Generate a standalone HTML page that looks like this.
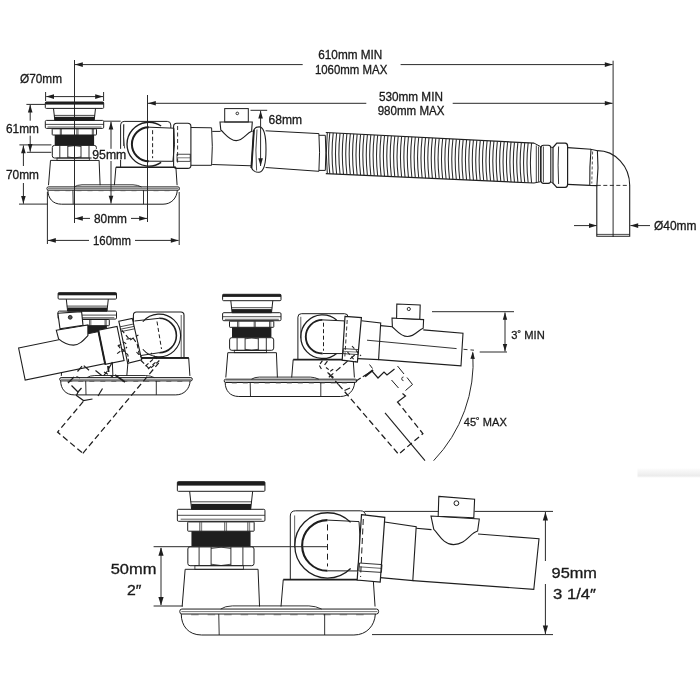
<!DOCTYPE html>
<html><head><meta charset="utf-8"><style>
html,body{margin:0;padding:0;background:#fff;}
svg{display:block;will-change:transform;}
text{font-family:"Liberation Sans",sans-serif;}
</style></head><body>
<svg width="700" height="700" viewBox="0 0 700 700">
<rect width="700" height="700" fill="#fff"/>
<defs><linearGradient id="shadowbar" x1="0" y1="0" x2="0" y2="1"><stop offset="0" stop-color="#fcfcfc"/><stop offset="0.8" stop-color="#ececec"/><stop offset="1" stop-color="#f8f8f8"/></linearGradient></defs>
<rect x="637.5" y="468.5" width="62.5" height="9" fill="url(#shadowbar)"/>
<g fill="none" stroke-linecap="butt">
<line x1="74.50" y1="60.00" x2="74.50" y2="223.00" stroke="#2a2a2a" stroke-width="1.0"/>
<line x1="75.00" y1="64.60" x2="302.70" y2="64.60" stroke="#2a2a2a" stroke-width="1.0"/>
<line x1="400.60" y1="64.60" x2="612.60" y2="64.60" stroke="#2a2a2a" stroke-width="1.0"/>
<polygon points="75.00,64.60 82.80,62.30 82.80,66.90" fill="#1e1e1e"/>
<polygon points="612.60,64.60 604.80,66.90 604.80,62.30" fill="#1e1e1e"/>
<text x="350.3" y="59.4" font-size="12.0" text-anchor="middle" fill="#1a1a1a" stroke="#1a1a1a" stroke-width="0.3" textLength="64" lengthAdjust="spacingAndGlyphs">610mm MIN</text>
<text x="351.1" y="74.4" font-size="12.0" text-anchor="middle" fill="#1a1a1a" stroke="#1a1a1a" stroke-width="0.3" textLength="72.4" lengthAdjust="spacingAndGlyphs">1060mm MAX</text>
<line x1="613.10" y1="60.70" x2="613.10" y2="237.00" stroke="#2a2a2a" stroke-width="1.0"/>
<line x1="147.50" y1="95.00" x2="147.50" y2="222.00" stroke="#2a2a2a" stroke-width="1.0"/>
<line x1="148.00" y1="103.30" x2="366.30" y2="103.30" stroke="#2a2a2a" stroke-width="1.0"/>
<line x1="452.70" y1="103.30" x2="612.60" y2="103.30" stroke="#2a2a2a" stroke-width="1.0"/>
<polygon points="148.00,103.30 155.80,101.00 155.80,105.60" fill="#1e1e1e"/>
<polygon points="612.60,103.30 604.80,105.60 604.80,101.00" fill="#1e1e1e"/>
<text x="410.9" y="100.6" font-size="12.0" text-anchor="middle" fill="#1a1a1a" stroke="#1a1a1a" stroke-width="0.3" textLength="64" lengthAdjust="spacingAndGlyphs">530mm MIN</text>
<text x="411.1" y="115.0" font-size="12.0" text-anchor="middle" fill="#1a1a1a" stroke="#1a1a1a" stroke-width="0.3" textLength="66.8" lengthAdjust="spacingAndGlyphs">980mm MAX</text>
<rect x="45.30" y="102.00" width="58.40" height="2.60" fill="#1e1e1e"/>
<rect x="45.30" y="102.00" width="58.40" height="6.40" rx="1" fill="none" stroke="#1e1e1e" stroke-width="1.0"/>
<path d="M53.5,108.4 L54.8,120.4 L94.2,120.4 L95.5,108.4" fill="none" stroke="#1e1e1e" stroke-width="1.0"/>
<line x1="54.10" y1="115.40" x2="94.90" y2="115.40" stroke="#1e1e1e" stroke-width="0.8"/>
<rect x="54.60" y="116.80" width="39.80" height="3.60" fill="#1e1e1e"/>
<rect x="45.30" y="120.40" width="58.40" height="8.00" rx="1.2" fill="none" stroke="#1e1e1e" stroke-width="1.0"/>
<line x1="45.30" y1="124.40" x2="103.70" y2="124.40" stroke="#1e1e1e" stroke-width="0.8"/>
<line x1="47.50" y1="127.00" x2="101.50" y2="127.00" stroke="#1e1e1e" stroke-width="0.7"/>
<rect x="52.20" y="128.80" width="44.30" height="6.20" rx="0.6" fill="none" stroke="#1e1e1e" stroke-width="1.0"/>
<line x1="60.30" y1="129.00" x2="60.30" y2="135.00" stroke="#1e1e1e" stroke-width="0.8"/>
<line x1="61.50" y1="129.00" x2="61.50" y2="135.00" stroke="#1e1e1e" stroke-width="0.6"/>
<line x1="76.90" y1="129.00" x2="76.90" y2="135.00" stroke="#1e1e1e" stroke-width="0.8"/>
<line x1="78.10" y1="129.00" x2="78.10" y2="135.00" stroke="#1e1e1e" stroke-width="0.6"/>
<line x1="92.30" y1="129.00" x2="92.30" y2="135.00" stroke="#1e1e1e" stroke-width="0.8"/>
<line x1="93.50" y1="129.00" x2="93.50" y2="135.00" stroke="#1e1e1e" stroke-width="0.6"/>
<rect x="54.70" y="135.00" width="39.40" height="10.20" fill="#1e1e1e"/>
<rect x="52.30" y="145.40" width="44.10" height="12.60" rx="2.2" fill="none" stroke="#1e1e1e" stroke-width="1.0"/>
<line x1="59.80" y1="145.60" x2="59.80" y2="157.80" stroke="#1e1e1e" stroke-width="0.9"/>
<line x1="67.80" y1="145.60" x2="67.80" y2="157.80" stroke="#1e1e1e" stroke-width="0.9"/>
<line x1="81.00" y1="145.60" x2="81.00" y2="157.80" stroke="#1e1e1e" stroke-width="0.9"/>
<line x1="89.00" y1="145.60" x2="89.00" y2="157.80" stroke="#1e1e1e" stroke-width="0.9"/>
<path d="M67.8,146.5 Q74.5,144.8 81.0,146.5 M67.8,157.0 Q74.5,158.8 81.0,157.0" fill="none" stroke="#1e1e1e" stroke-width="0.8"/>
<rect x="57.00" y="158.00" width="32.30" height="2.40" rx="0" fill="none" stroke="#1e1e1e" stroke-width="0.8"/>
<path d="M50.5,160.4 L48.5,185.2 M99.1,160.4 L100.1,185.2 M50.5,160.4 L99.1,160.4" fill="none" stroke="#1e1e1e" stroke-width="1.0"/>
<path d="M115.9,167.3 L114.4,185.2 M175.9,167.3 L177.1,185.2" fill="none" stroke="#1e1e1e" stroke-width="1.0"/>
<line x1="115.90" y1="167.30" x2="175.90" y2="167.30" stroke="#1e1e1e" stroke-width="1.6"/>
<path d="M74.2,186.9 Q77.0,184.9 82.0,184.8 L133.0,184.8 Q137.5,184.9 141.5,186.9" fill="none" stroke="#1e1e1e" stroke-width="0.9"/>
<path d="M48.3,186.9 L178.1,186.9 Q179.5,186.9 179.5,188.5 Q179.5,190.2 178.1,190.2 L48.3,190.2 Q46.9,190.2 46.9,188.5 Q46.9,186.9 48.3,186.9 Z" fill="none" stroke="#1e1e1e" stroke-width="1.0"/>
<line x1="48.00" y1="188.60" x2="178.60" y2="188.60" stroke="#1e1e1e" stroke-width="0.6"/>
<line x1="54.50" y1="190.70" x2="175.10" y2="190.70" stroke="#555" stroke-width="0.8" stroke-dasharray="5.0,6.0"/>
<path d="M47.9,190.2 C47.9,198.0 52.5,204.2 61.5,204.2 L163.0,204.2 C171.5,204.2 176.9,198.0 177.3,190.2" fill="none" stroke="#1e1e1e" stroke-width="1.0"/>
<line x1="72.90" y1="190.20" x2="73.20" y2="204.20" stroke="#1e1e1e" stroke-width="0.9"/>
<line x1="143.50" y1="190.20" x2="143.50" y2="204.20" stroke="#1e1e1e" stroke-width="0.9"/>
<path d="M120.6,167.3 L120.6,124.9 Q120.6,121.4 124.1,121.4 L167.3,121.4 Q170.8,121.4 170.8,125.0 L170.8,128.0" fill="none" stroke="#1e1e1e" stroke-width="1.0"/>
<line x1="123.50" y1="124.50" x2="123.50" y2="146.00" stroke="#1e1e1e" stroke-width="0.7"/>
<path d="M161.14632458600937,126.04407716104458 A21.9,21.9 0 1 0 161.14632458600937,162.35592283895542" fill="none" stroke="#1e1e1e" stroke-width="1.35"/>
<path d="M148.9,127.2 A17.0,17.0 0 0 0 148.9,161.2" fill="none" stroke="#1e1e1e" stroke-width="2.0"/>
<path d="M148.9,127.2 L173.9,128.2 Q175.5,145.0 172.9,161.3 L148.9,161.2" fill="none" stroke="#1e1e1e" stroke-width="1.0"/>
<line x1="152.60" y1="130.20" x2="152.60" y2="158.20" stroke="#1e1e1e" stroke-width="1.0" stroke-dasharray="4.0,2.5"/>
<path d="M123.9,124.2 Q123.0,137 124.6,148.5" fill="none" stroke="#1e1e1e" stroke-width="0.8"/>
<rect x="173.60" y="123.30" width="17.30" height="45.10" rx="3.2" fill="none" stroke="#1e1e1e" stroke-width="1.1"/>
<line x1="177.60" y1="126.00" x2="177.60" y2="165.00" stroke="#1e1e1e" stroke-width="0.9" stroke-dasharray="4,2.5"/>
<rect x="177.00" y="154.20" width="13.20" height="7.10" rx="0" fill="none" stroke="#1e1e1e" stroke-width="0.8"/>
<line x1="177.20" y1="157.80" x2="190.00" y2="157.80" stroke="#1e1e1e" stroke-width="0.6"/>
<path d="M190.9,127.5 L211.6,127.8 Q213,146 211.6,165.3 L190.9,165.3" fill="none" stroke="#1e1e1e" stroke-width="1.0"/>
<path d="M212.2,131.4 L220.6,131.4 M251.8,131.4 L252.6,131.4 M212.2,164.5 L251.5,165.8" fill="none" stroke="#1e1e1e" stroke-width="1.0"/>
<path d="M220.0,122.0 L252.3,122.0 L251.6,131.2 C246,133.5 243,140.6 236.2,140.6 C229,140.6 225,133.5 220.8,130.0 Z" fill="none" stroke="#1e1e1e" stroke-width="1.1"/>
<rect x="224.70" y="108.60" width="23.60" height="13.40" rx="0" fill="none" stroke="#1e1e1e" stroke-width="1.0"/>
<circle cx="237.3" cy="113.4" r="1.3" fill="none" stroke="#1e1e1e" stroke-width="0.9"/>
<path d="M253.8,130.5 C254.5,127.6 256.5,126.8 259.5,126.9 C264.6,127.4 266.0,138 266.0,149.5 C266.0,161 264.6,171.6 259.2,172.2 C255.6,172.6 252.4,170.5 251.4,167.5 Z" fill="#fff" stroke="#1e1e1e" stroke-width="1.1"/>
<line x1="253.90" y1="129.80" x2="251.40" y2="168.00" stroke="#1e1e1e" stroke-width="1.9"/>
<path d="M257.0,129.5 Q255.0,150 256.6,170.5" fill="none" stroke="#1e1e1e" stroke-width="0.8"/>
<line x1="250.50" y1="110.30" x2="267.20" y2="110.30" stroke="#2a2a2a" stroke-width="1.0"/>
<line x1="260.60" y1="110.80" x2="260.60" y2="166.00" stroke="#2a2a2a" stroke-width="1.0"/>
<polygon points="260.60,110.80 262.90,118.60 258.30,118.60" fill="#1e1e1e"/>
<polygon points="260.60,166.00 258.30,158.20 262.90,158.20" fill="#1e1e1e"/>
<text x="268.5" y="124.4" font-size="12.0" text-anchor="start" fill="#1a1a1a" stroke="#1a1a1a" stroke-width="0.3" textLength="33.5" lengthAdjust="spacingAndGlyphs">68mm</text>
<path d="M265.6,130.8 L318.9,133.6 Q320.2,152 318.9,171.3 L265.6,167.5" fill="none" stroke="#1e1e1e" stroke-width="1.0"/>
<path d="M318.9,135.3 L325.3,135.3 Q326.5,153 325.3,170.4 L318.9,170.4" fill="none" stroke="#1e1e1e" stroke-width="1.0"/>
<path d="M325.8,132.5 L534.0,143.1 M325.8,173.6 L534.0,183.0" fill="none" stroke="#1e1e1e" stroke-width="1.2"/>
<path d="M327.3,132.5 Q325.3,153.05 327.3,173.6" fill="none" stroke="#1e1e1e" stroke-width="1.0"/>
<path d="M329.80,132.70 C328.40,145.03 328.40,161.46 329.80,173.78" fill="none" stroke="#2a2a2a" stroke-width="1.05"/>
<path d="M333.22,132.88 C331.82,145.19 331.82,161.62 333.22,173.94" fill="none" stroke="#2a2a2a" stroke-width="1.05"/>
<path d="M336.64,133.05 C335.24,145.36 335.24,161.78 336.64,174.09" fill="none" stroke="#2a2a2a" stroke-width="1.05"/>
<path d="M340.06,133.23 C338.66,145.53 338.66,161.94 340.06,174.24" fill="none" stroke="#2a2a2a" stroke-width="1.05"/>
<path d="M343.48,133.40 C342.08,145.70 342.08,162.10 343.48,174.40" fill="none" stroke="#2a2a2a" stroke-width="1.05"/>
<path d="M346.90,133.57 C345.50,145.87 345.50,162.26 346.90,174.55" fill="none" stroke="#2a2a2a" stroke-width="1.05"/>
<path d="M350.32,133.75 C348.92,146.04 348.92,162.42 350.32,174.71" fill="none" stroke="#2a2a2a" stroke-width="1.05"/>
<path d="M353.74,133.92 C352.34,146.20 352.34,162.58 353.74,174.86" fill="none" stroke="#2a2a2a" stroke-width="1.05"/>
<path d="M357.16,134.10 C355.76,146.37 355.76,162.74 357.16,175.02" fill="none" stroke="#2a2a2a" stroke-width="1.05"/>
<path d="M360.58,134.27 C359.18,146.54 359.18,162.90 360.58,175.17" fill="none" stroke="#2a2a2a" stroke-width="1.05"/>
<path d="M364.00,134.44 C362.60,146.71 362.60,163.06 364.00,175.32" fill="none" stroke="#2a2a2a" stroke-width="1.05"/>
<path d="M367.42,134.62 C366.02,146.88 366.02,163.22 367.42,175.48" fill="none" stroke="#2a2a2a" stroke-width="1.05"/>
<path d="M370.84,134.79 C369.44,147.05 369.44,163.38 370.84,175.63" fill="none" stroke="#2a2a2a" stroke-width="1.05"/>
<path d="M374.26,134.97 C372.86,147.21 372.86,163.54 374.26,175.79" fill="none" stroke="#2a2a2a" stroke-width="1.05"/>
<path d="M377.68,135.14 C376.28,147.38 376.28,163.70 377.68,175.94" fill="none" stroke="#2a2a2a" stroke-width="1.05"/>
<path d="M381.10,135.32 C379.70,147.55 379.70,163.86 381.10,176.10" fill="none" stroke="#2a2a2a" stroke-width="1.05"/>
<path d="M384.52,135.49 C383.12,147.72 383.12,164.02 384.52,176.25" fill="none" stroke="#2a2a2a" stroke-width="1.05"/>
<path d="M387.94,135.66 C386.54,147.89 386.54,164.18 387.94,176.41" fill="none" stroke="#2a2a2a" stroke-width="1.05"/>
<path d="M391.36,135.84 C389.96,148.05 389.96,164.34 391.36,176.56" fill="none" stroke="#2a2a2a" stroke-width="1.05"/>
<path d="M394.78,136.01 C393.38,148.22 393.38,164.50 394.78,176.71" fill="none" stroke="#2a2a2a" stroke-width="1.05"/>
<path d="M398.20,136.19 C396.80,148.39 396.80,164.66 398.20,176.87" fill="none" stroke="#2a2a2a" stroke-width="1.05"/>
<path d="M401.62,136.36 C400.22,148.56 400.22,164.82 401.62,177.02" fill="none" stroke="#2a2a2a" stroke-width="1.05"/>
<path d="M405.04,136.53 C403.64,148.73 403.64,164.98 405.04,177.18" fill="none" stroke="#2a2a2a" stroke-width="1.05"/>
<path d="M408.46,136.71 C407.06,148.90 407.06,165.14 408.46,177.33" fill="none" stroke="#2a2a2a" stroke-width="1.05"/>
<path d="M411.88,136.88 C410.48,149.06 410.48,165.31 411.88,177.49" fill="none" stroke="#2a2a2a" stroke-width="1.05"/>
<path d="M415.30,137.06 C413.90,149.23 413.90,165.47 415.30,177.64" fill="none" stroke="#2a2a2a" stroke-width="1.05"/>
<path d="M418.72,137.23 C417.32,149.40 417.32,165.63 418.72,177.80" fill="none" stroke="#2a2a2a" stroke-width="1.05"/>
<path d="M422.14,137.40 C420.74,149.57 420.74,165.79 422.14,177.95" fill="none" stroke="#2a2a2a" stroke-width="1.05"/>
<path d="M425.56,137.58 C424.16,149.74 424.16,165.95 425.56,178.10" fill="none" stroke="#2a2a2a" stroke-width="1.05"/>
<path d="M428.98,137.75 C427.58,149.90 427.58,166.11 428.98,178.26" fill="none" stroke="#2a2a2a" stroke-width="1.05"/>
<path d="M432.40,137.93 C431.00,150.07 431.00,166.27 432.40,178.41" fill="none" stroke="#2a2a2a" stroke-width="1.05"/>
<path d="M435.82,138.10 C434.42,150.24 434.42,166.43 435.82,178.57" fill="none" stroke="#2a2a2a" stroke-width="1.05"/>
<path d="M439.24,138.28 C437.84,150.41 437.84,166.59 439.24,178.72" fill="none" stroke="#2a2a2a" stroke-width="1.05"/>
<path d="M442.66,138.45 C441.26,150.58 441.26,166.75 442.66,178.88" fill="none" stroke="#2a2a2a" stroke-width="1.05"/>
<path d="M446.08,138.62 C444.68,150.75 444.68,166.91 446.08,179.03" fill="none" stroke="#2a2a2a" stroke-width="1.05"/>
<path d="M449.50,138.80 C448.10,150.91 448.10,167.07 449.50,179.18" fill="none" stroke="#2a2a2a" stroke-width="1.05"/>
<path d="M452.92,138.97 C451.52,151.08 451.52,167.23 452.92,179.34" fill="none" stroke="#2a2a2a" stroke-width="1.05"/>
<path d="M456.34,139.15 C454.94,151.25 454.94,167.39 456.34,179.49" fill="none" stroke="#2a2a2a" stroke-width="1.05"/>
<path d="M459.76,139.32 C458.36,151.42 458.36,167.55 459.76,179.65" fill="none" stroke="#2a2a2a" stroke-width="1.05"/>
<path d="M463.18,139.49 C461.78,151.59 461.78,167.71 463.18,179.80" fill="none" stroke="#2a2a2a" stroke-width="1.05"/>
<path d="M466.60,139.67 C465.20,151.76 465.20,167.87 466.60,179.96" fill="none" stroke="#2a2a2a" stroke-width="1.05"/>
<path d="M470.02,139.84 C468.62,151.92 468.62,168.03 470.02,180.11" fill="none" stroke="#2a2a2a" stroke-width="1.05"/>
<path d="M473.44,140.02 C472.04,152.09 472.04,168.19 473.44,180.27" fill="none" stroke="#2a2a2a" stroke-width="1.05"/>
<path d="M476.86,140.19 C475.46,152.26 475.46,168.35 476.86,180.42" fill="none" stroke="#2a2a2a" stroke-width="1.05"/>
<path d="M480.28,140.36 C478.88,152.43 478.88,168.51 480.28,180.57" fill="none" stroke="#2a2a2a" stroke-width="1.05"/>
<path d="M483.70,140.54 C482.30,152.60 482.30,168.67 483.70,180.73" fill="none" stroke="#2a2a2a" stroke-width="1.05"/>
<path d="M487.12,140.71 C485.72,152.76 485.72,168.83 487.12,180.88" fill="none" stroke="#2a2a2a" stroke-width="1.05"/>
<path d="M490.54,140.89 C489.14,152.93 489.14,168.99 490.54,181.04" fill="none" stroke="#2a2a2a" stroke-width="1.05"/>
<path d="M493.96,141.06 C492.56,153.10 492.56,169.15 493.96,181.19" fill="none" stroke="#2a2a2a" stroke-width="1.05"/>
<path d="M497.38,141.24 C495.98,153.27 495.98,169.31 497.38,181.35" fill="none" stroke="#2a2a2a" stroke-width="1.05"/>
<path d="M500.80,141.41 C499.40,153.44 499.40,169.47 500.80,181.50" fill="none" stroke="#2a2a2a" stroke-width="1.05"/>
<path d="M504.22,141.58 C502.82,153.61 502.82,169.63 504.22,181.66" fill="none" stroke="#2a2a2a" stroke-width="1.05"/>
<path d="M507.64,141.76 C506.24,153.77 506.24,169.79 507.64,181.81" fill="none" stroke="#2a2a2a" stroke-width="1.05"/>
<path d="M511.06,141.93 C509.66,153.94 509.66,169.95 511.06,181.96" fill="none" stroke="#2a2a2a" stroke-width="1.05"/>
<path d="M514.48,142.11 C513.08,154.11 513.08,170.11 514.48,182.12" fill="none" stroke="#2a2a2a" stroke-width="1.05"/>
<path d="M517.90,142.28 C516.50,154.28 516.50,170.28 517.90,182.27" fill="none" stroke="#2a2a2a" stroke-width="1.05"/>
<path d="M521.32,142.45 C519.92,154.45 519.92,170.44 521.32,182.43" fill="none" stroke="#2a2a2a" stroke-width="1.05"/>
<path d="M524.74,142.63 C523.34,154.61 523.34,170.60 524.74,182.58" fill="none" stroke="#2a2a2a" stroke-width="1.05"/>
<path d="M528.16,142.80 C526.76,154.78 526.76,170.76 528.16,182.74" fill="none" stroke="#2a2a2a" stroke-width="1.05"/>
<path d="M531.58,142.98 C530.18,154.95 530.18,170.92 531.58,182.89" fill="none" stroke="#2a2a2a" stroke-width="1.05"/>
<path d="M534,143.1 L540.6,146.6 L540.6,181.7 L534,183.0" fill="none" stroke="#1e1e1e" stroke-width="1.0"/>
<line x1="536.30" y1="145.43" x2="536.30" y2="182.25" stroke="#2a2a2a" stroke-width="0.9"/>
<line x1="538.60" y1="146.47" x2="538.60" y2="181.91" stroke="#2a2a2a" stroke-width="0.9"/>
<rect x="541.00" y="145.30" width="9.80" height="38.10" rx="2.6" fill="none" stroke="#1e1e1e" stroke-width="1.1"/>
<line x1="543.40" y1="146.50" x2="543.40" y2="182.20" stroke="#1e1e1e" stroke-width="0.8"/>
<path d="M553.0,147.5 L556.8,143.1 L565.2,143.1 Q567.6,143.1 567.6,146.2 L567.6,184.3 Q567.6,187.3 565.2,187.3 L556.8,187.3 L553.0,183.2 Z" fill="none" stroke="#1e1e1e" stroke-width="1.2"/>
<path d="M558.6,146.5 Q557.6,165 558.6,184" fill="none" stroke="#1e1e1e" stroke-width="0.9"/>
<line x1="550.80" y1="147.20" x2="553.00" y2="147.50" stroke="#1e1e1e" stroke-width="0.9"/>
<line x1="550.80" y1="181.80" x2="553.00" y2="183.20" stroke="#1e1e1e" stroke-width="0.9"/>
<path d="M567.6,147.6 L591.0,149.3 M567.2,184.4 L589.8,185.4" fill="none" stroke="#1e1e1e" stroke-width="1.1"/>
<path d="M591.0,149.3 Q589.4,167.5 589.8,185.4 L596.9,185.6 Q598.8,168 597.4,150.6 Z" fill="none" stroke="#1e1e1e" stroke-width="1.1"/>
<line x1="592.60" y1="151.50" x2="591.80" y2="183.50" stroke="#444" stroke-width="0.9" stroke-dasharray="3,2"/>
<path d="M597.4,150.6 A32.3,34.7 0 0 1 629.7,185.3 L629.7,236.3 L596.8,236.3 L596.8,185.6" fill="none" stroke="#1e1e1e" stroke-width="1.1"/>
<line x1="596.80" y1="234.40" x2="629.70" y2="234.40" stroke="#1e1e1e" stroke-width="0.8"/>
<line x1="596.80" y1="185.40" x2="629.70" y2="185.40" stroke="#1e1e1e" stroke-width="0.9" stroke-dasharray="4,2.5"/>
<line x1="574.00" y1="225.60" x2="596.80" y2="225.60" stroke="#2a2a2a" stroke-width="1.0"/>
<polygon points="596.80,225.60 589.00,227.90 589.00,223.30" fill="#1e1e1e"/>
<line x1="650.00" y1="225.60" x2="630.40" y2="225.60" stroke="#2a2a2a" stroke-width="1.0"/>
<polygon points="630.40,225.60 638.20,223.30 638.20,227.90" fill="#1e1e1e"/>
<text x="654" y="230.3" font-size="12.0" text-anchor="start" fill="#1a1a1a" stroke="#1a1a1a" stroke-width="0.3" textLength="42.5" lengthAdjust="spacingAndGlyphs">Ø40mm</text>
<line x1="45.60" y1="92.00" x2="45.60" y2="101.00" stroke="#2a2a2a" stroke-width="1.0"/>
<line x1="103.60" y1="92.00" x2="103.60" y2="101.00" stroke="#2a2a2a" stroke-width="1.0"/>
<line x1="46.20" y1="96.60" x2="103.00" y2="96.60" stroke="#2a2a2a" stroke-width="1.0"/>
<polygon points="46.20,96.60 54.00,94.30 54.00,98.90" fill="#1e1e1e"/>
<polygon points="103.00,96.60 95.20,98.90 95.20,94.30" fill="#1e1e1e"/>
<text x="20" y="83.2" font-size="12.0" text-anchor="start" fill="#1a1a1a" stroke="#1a1a1a" stroke-width="0.3" textLength="42" lengthAdjust="spacingAndGlyphs">Ø70mm</text>
<line x1="26.40" y1="104.40" x2="45.00" y2="104.40" stroke="#2a2a2a" stroke-width="1.0"/>
<line x1="19.40" y1="144.90" x2="51.40" y2="144.90" stroke="#2a2a2a" stroke-width="1.0"/>
<line x1="26.90" y1="152.30" x2="51.40" y2="152.30" stroke="#2a2a2a" stroke-width="1.0"/>
<line x1="30.20" y1="104.80" x2="30.20" y2="120.70" stroke="#2a2a2a" stroke-width="1.0"/>
<line x1="30.20" y1="135.70" x2="30.20" y2="151.80" stroke="#2a2a2a" stroke-width="1.0"/>
<polygon points="30.20,104.80 32.50,112.60 27.90,112.60" fill="#1e1e1e"/>
<polygon points="30.20,151.80 27.90,144.00 32.50,144.00" fill="#1e1e1e"/>
<text x="6" y="133.2" font-size="12.0" text-anchor="start" fill="#1a1a1a" stroke="#1a1a1a" stroke-width="0.3" textLength="33" lengthAdjust="spacingAndGlyphs">61mm</text>
<line x1="23.40" y1="145.40" x2="23.40" y2="166.00" stroke="#2a2a2a" stroke-width="1.0"/>
<line x1="23.40" y1="183.00" x2="23.40" y2="203.80" stroke="#2a2a2a" stroke-width="1.0"/>
<polygon points="23.40,145.40 25.70,153.20 21.10,153.20" fill="#1e1e1e"/>
<polygon points="23.40,203.80 21.10,196.00 25.70,196.00" fill="#1e1e1e"/>
<text x="6" y="179.2" font-size="12.0" text-anchor="start" fill="#1a1a1a" stroke="#1a1a1a" stroke-width="0.3" textLength="33" lengthAdjust="spacingAndGlyphs">70mm</text>
<line x1="19.00" y1="204.10" x2="48.00" y2="204.10" stroke="#2a2a2a" stroke-width="1.0"/>
<line x1="104.00" y1="121.20" x2="120.60" y2="121.20" stroke="#2a2a2a" stroke-width="1.0"/>
<line x1="111.00" y1="121.80" x2="111.00" y2="149.00" stroke="#2a2a2a" stroke-width="1.0"/>
<line x1="111.00" y1="161.00" x2="111.00" y2="203.60" stroke="#2a2a2a" stroke-width="1.0"/>
<polygon points="111.00,121.80 113.30,129.60 108.70,129.60" fill="#1e1e1e"/>
<polygon points="111.00,203.60 108.70,195.80 113.30,195.80" fill="#1e1e1e"/>
<rect x="91.60" y="148.80" width="35.40" height="10.90" fill="#fff"/>
<text x="92.3" y="159.2" font-size="12.0" text-anchor="start" fill="#1a1a1a" stroke="#1a1a1a" stroke-width="0.3" textLength="34" lengthAdjust="spacingAndGlyphs">95mm</text>
<line x1="47.40" y1="192.00" x2="47.40" y2="244.00" stroke="#2a2a2a" stroke-width="1.0"/>
<line x1="179.20" y1="192.00" x2="179.20" y2="245.00" stroke="#2a2a2a" stroke-width="1.0"/>
<line x1="75.00" y1="218.40" x2="90.00" y2="218.40" stroke="#2a2a2a" stroke-width="1.0"/>
<line x1="131.00" y1="218.40" x2="147.00" y2="218.40" stroke="#2a2a2a" stroke-width="1.0"/>
<polygon points="75.00,218.40 82.80,216.10 82.80,220.70" fill="#1e1e1e"/>
<polygon points="147.00,218.40 139.20,220.70 139.20,216.10" fill="#1e1e1e"/>
<text x="94" y="222.6" font-size="12.0" text-anchor="start" fill="#1a1a1a" stroke="#1a1a1a" stroke-width="0.3" textLength="33" lengthAdjust="spacingAndGlyphs">80mm</text>
<line x1="48.00" y1="240.40" x2="89.00" y2="240.40" stroke="#2a2a2a" stroke-width="1.0"/>
<line x1="135.00" y1="240.40" x2="178.60" y2="240.40" stroke="#2a2a2a" stroke-width="1.0"/>
<polygon points="48.00,240.40 55.80,238.10 55.80,242.70" fill="#1e1e1e"/>
<polygon points="178.60,240.40 170.80,242.70 170.80,238.10" fill="#1e1e1e"/>
<text x="93" y="244.6" font-size="12.0" text-anchor="start" fill="#1a1a1a" stroke="#1a1a1a" stroke-width="0.3" textLength="38" lengthAdjust="spacingAndGlyphs">160mm</text>
<rect x="222.60" y="294.30" width="58.40" height="2.60" fill="#1e1e1e"/>
<rect x="222.60" y="294.30" width="58.40" height="6.40" rx="1" fill="none" stroke="#1e1e1e" stroke-width="1.0"/>
<path d="M230.8,300.7 L232.10000000000002,312.7 L271.5,312.7 L272.8,300.7" fill="none" stroke="#1e1e1e" stroke-width="1.0"/>
<line x1="231.40" y1="307.70" x2="272.20" y2="307.70" stroke="#1e1e1e" stroke-width="0.8"/>
<rect x="231.90" y="309.10" width="39.80" height="3.60" fill="#1e1e1e"/>
<rect x="222.60" y="312.70" width="58.40" height="8.00" rx="1.2" fill="none" stroke="#1e1e1e" stroke-width="1.0"/>
<line x1="222.60" y1="316.70" x2="281.00" y2="316.70" stroke="#1e1e1e" stroke-width="0.8"/>
<line x1="224.80" y1="319.30" x2="278.80" y2="319.30" stroke="#1e1e1e" stroke-width="0.7"/>
<rect x="229.50" y="321.10" width="44.30" height="6.20" rx="0.6" fill="none" stroke="#1e1e1e" stroke-width="1.0"/>
<line x1="237.60" y1="321.30" x2="237.60" y2="327.30" stroke="#1e1e1e" stroke-width="0.8"/>
<line x1="238.80" y1="321.30" x2="238.80" y2="327.30" stroke="#1e1e1e" stroke-width="0.6"/>
<line x1="254.20" y1="321.30" x2="254.20" y2="327.30" stroke="#1e1e1e" stroke-width="0.8"/>
<line x1="255.40" y1="321.30" x2="255.40" y2="327.30" stroke="#1e1e1e" stroke-width="0.6"/>
<line x1="269.60" y1="321.30" x2="269.60" y2="327.30" stroke="#1e1e1e" stroke-width="0.8"/>
<line x1="270.80" y1="321.30" x2="270.80" y2="327.30" stroke="#1e1e1e" stroke-width="0.6"/>
<rect x="232.00" y="327.30" width="39.40" height="10.20" fill="#1e1e1e"/>
<rect x="229.60" y="337.70" width="44.10" height="12.60" rx="2.2" fill="none" stroke="#1e1e1e" stroke-width="1.0"/>
<line x1="237.10" y1="337.90" x2="237.10" y2="350.10" stroke="#1e1e1e" stroke-width="0.9"/>
<line x1="245.10" y1="337.90" x2="245.10" y2="350.10" stroke="#1e1e1e" stroke-width="0.9"/>
<line x1="258.30" y1="337.90" x2="258.30" y2="350.10" stroke="#1e1e1e" stroke-width="0.9"/>
<line x1="266.30" y1="337.90" x2="266.30" y2="350.10" stroke="#1e1e1e" stroke-width="0.9"/>
<path d="M245.10000000000002,338.8 Q251.8,337.1 258.3,338.8 M245.10000000000002,349.3 Q251.8,351.1 258.3,349.3" fill="none" stroke="#1e1e1e" stroke-width="0.8"/>
<rect x="234.30" y="350.30" width="32.30" height="2.40" rx="0" fill="none" stroke="#1e1e1e" stroke-width="0.8"/>
<path d="M227.8,352.7 L225.8,377.5 M276.40000000000003,352.7 L277.40000000000003,377.5 M227.8,352.7 L276.40000000000003,352.7" fill="none" stroke="#1e1e1e" stroke-width="1.0"/>
<path d="M293.2,359.6 L291.7,377.5 M353.20000000000005,359.6 L354.4,377.5" fill="none" stroke="#1e1e1e" stroke-width="1.0"/>
<line x1="293.20" y1="359.60" x2="353.20" y2="359.60" stroke="#1e1e1e" stroke-width="1.6"/>
<path d="M251.5,379.20000000000005 Q254.3,377.20000000000005 259.3,377.1 L310.3,377.1 Q314.8,377.20000000000005 318.8,379.20000000000005" fill="none" stroke="#1e1e1e" stroke-width="0.9"/>
<path d="M225.60000000000002,379.20000000000005 L355.4,379.20000000000005 Q356.8,379.20000000000005 356.8,380.8 Q356.8,382.5 355.4,382.5 L225.60000000000002,382.5 Q224.20000000000002,382.5 224.20000000000002,380.8 Q224.20000000000002,379.20000000000005 225.60000000000002,379.20000000000005 Z" fill="none" stroke="#1e1e1e" stroke-width="1.0"/>
<line x1="225.30" y1="380.90" x2="355.90" y2="380.90" stroke="#1e1e1e" stroke-width="0.6"/>
<line x1="231.80" y1="383.00" x2="352.40" y2="383.00" stroke="#555" stroke-width="0.8" stroke-dasharray="5.0,6.0"/>
<path d="M225.20000000000002,382.5 C225.20000000000002,390.3 229.8,396.5 238.8,396.5 L340.3,396.5 C348.8,396.5 354.20000000000005,390.3 354.6,382.5" fill="none" stroke="#1e1e1e" stroke-width="1.0"/>
<line x1="250.20" y1="382.50" x2="250.50" y2="396.50" stroke="#1e1e1e" stroke-width="0.9"/>
<line x1="320.80" y1="382.50" x2="320.80" y2="396.50" stroke="#1e1e1e" stroke-width="0.9"/>
<path d="M297.90000000000003,359.6 L297.90000000000003,317.2 Q297.90000000000003,313.7 301.40000000000003,313.7 L344.6,313.7 Q348.1,313.7 348.1,317.3 L348.1,320.3" fill="none" stroke="#1e1e1e" stroke-width="1.0"/>
<line x1="300.80" y1="316.80" x2="300.80" y2="338.30" stroke="#1e1e1e" stroke-width="0.7"/>
<path d="M336.6127698911666,320.0002311400063 A21.8,21.8 0 1 0 336.6127698911666,353.39976885999374" fill="none" stroke="#1e1e1e" stroke-width="1.3"/>
<path d="M322.6,319.90000000000003 A16.8,16.8 0 0 0 322.6,353.5" fill="none" stroke="#1e1e1e" stroke-width="1.9"/>
<path d="M322.6,319.90000000000003 L344.3,320.90000000000003 Q345.9,337.5 343.3,353.6 L322.6,353.5" fill="none" stroke="#1e1e1e" stroke-width="1.0"/>
<line x1="323.50" y1="322.70" x2="323.50" y2="350.70" stroke="#1e1e1e" stroke-width="1.0" stroke-dasharray="4.0,2.5"/>
<path d="M345.00,316.40 L361.40,317.60 L357.40,362.00 L342.20,360.20 Z" fill="#fff" stroke="#1e1e1e" stroke-width="1.2"/>
<line x1="347.20" y1="320.00" x2="344.80" y2="357.00" stroke="#1e1e1e" stroke-width="0.9" stroke-dasharray="4,2.5"/>
<path d="M343.40,348.60 L358.50,349.60 L358.10,354.60 L343.00,353.60 Z" fill="none" stroke="#1e1e1e" stroke-width="0.8"/>
<line x1="343.20" y1="351.30" x2="358.30" y2="352.20" stroke="#1e1e1e" stroke-width="0.6"/>
<path d="M361.4,320.7 L380.7,322.9 L378.6,359.6 L357.6,358.6" fill="none" stroke="#1e1e1e" stroke-width="1.1"/>
<path d="M380.7,325.6 L392.3,326.8 M423.3,329.9 L463.0,333.2 L461.0,365.9 L378.6,359.6" fill="none" stroke="#1e1e1e" stroke-width="1.1"/>
<line x1="367.00" y1="340.20" x2="456.60" y2="348.60" stroke="#1e1e1e" stroke-width="0.9"/>
<line x1="463.50" y1="349.30" x2="474.00" y2="350.20" stroke="#1e1e1e" stroke-width="0.9" stroke-dasharray="4,3"/>
<path d="M392.0,318.0 L423.6,319.6 L423.2,328.2 C418,330 415,336.5 407.5,336.5 C400,336.5 396.5,330 392.4,327.0 Z" fill="#fff" stroke="#1e1e1e" stroke-width="1.1"/>
<path d="M396.80,304.00 L420.20,305.00 L419.80,319.20 L396.60,318.20 Z" fill="#fff" stroke="#1e1e1e" stroke-width="1.1"/>
<circle cx="408.8" cy="309.0" r="1.6" fill="none" stroke="#1e1e1e" stroke-width="0.9"/>
<line x1="432.00" y1="311.70" x2="514.00" y2="311.70" stroke="#2a2a2a" stroke-width="1.0"/>
<line x1="479.70" y1="352.00" x2="507.00" y2="352.00" stroke="#2a2a2a" stroke-width="1.0"/>
<line x1="505.00" y1="312.50" x2="505.00" y2="351.50" stroke="#2a2a2a" stroke-width="1.0"/>
<polygon points="505.00,312.20 507.20,319.70 502.80,319.70" fill="#1e1e1e"/>
<polygon points="505.00,351.50 502.80,344.00 507.20,344.00" fill="#1e1e1e"/>
<text x="511.3" y="339.4" font-size="11.8" text-anchor="start" fill="#1a1a1a" stroke="#1a1a1a" stroke-width="0.3" textLength="33.5" lengthAdjust="spacingAndGlyphs">3&#730; MIN</text>
<path d="M472.8,352.5 A142.5,142.5 0 0 1 433.6,460.7" fill="none" stroke="#2a2a2a" stroke-width="1.0"/>
<polygon points="472.80,351.40 474.85,358.94 470.45,358.85" fill="#1e1e1e"/>
<text x="463.8" y="426.4" font-size="11.8" text-anchor="start" fill="#1a1a1a" stroke="#1a1a1a" stroke-width="0.3" textLength="43" lengthAdjust="spacingAndGlyphs">45&#730; MAX</text>
<line x1="385.00" y1="412.90" x2="425.00" y2="460.70" stroke="#1e1e1e" stroke-width="1.1"/>
<path d="M338.60,384.60 L398.60,454.30 L422.90,433.60 L400.00,405.00" fill="none" stroke="#1e1e1e" stroke-width="1.25" stroke-dasharray="6,3.4"/>
<path d="M400.00,405.00 L397.50,402.00 L405.50,396.00 L402.50,393.50" fill="none" stroke="#1e1e1e" stroke-width="1.2"/>
<path d="M391.50,380.00 L398.50,388.00" fill="none" stroke="#1e1e1e" stroke-width="1.0"/>
<path d="M397.50,366.00 L404.00,374.00" fill="none" stroke="#1e1e1e" stroke-width="1.0"/>
<path d="M407.00,377.50 L412.50,384.50 L405.50,390.50" fill="none" stroke="#1e1e1e" stroke-width="1.0"/>
<path d="M403.5,377 A1.8,1.8 0 1 0 403.5,380.6" fill="none" stroke="#1e1e1e" stroke-width="0.9"/>
<path d="M355.60,381.20 L372.00,371.00 L378.00,378.00 L384.00,372.00 L387.00,375.00 L394.50,369.00" fill="none" stroke="#1e1e1e" stroke-width="1.2" stroke-dasharray="6,2.5,40,0"/>
<line x1="365.00" y1="376.50" x2="373.00" y2="370.00" stroke="#1e1e1e" stroke-width="1.8"/>
<line x1="369.50" y1="364.50" x2="372.50" y2="368.50" stroke="#1e1e1e" stroke-width="1.0"/>
<path d="M322.40,360.60 L319.20,365.20 L322.40,370.80" fill="none" stroke="#1e1e1e" stroke-width="1.15" stroke-dasharray="4,2"/>
<path d="M327.40,361.20 L324.60,364.80" fill="none" stroke="#1e1e1e" stroke-width="1.15"/>
<path d="M326.00,367.50 L330.50,371.00 L335.00,368.00" fill="none" stroke="#1e1e1e" stroke-width="1.15" stroke-dasharray="3.5,2"/>
<path d="M327.50,372.50 L333.50,377.50" fill="none" stroke="#1e1e1e" stroke-width="1.15" stroke-dasharray="3.5,2"/>
<path d="M328.80,377.30 L357.10,352.90" fill="none" stroke="#1e1e1e" stroke-width="1.15" stroke-dasharray="6,3.4"/>
<line x1="329.00" y1="374.00" x2="338.60" y2="384.60" stroke="#1e1e1e" stroke-width="1.25" stroke-dasharray="6,3.4"/>
<line x1="344.50" y1="390.50" x2="350.00" y2="388.00" stroke="#1e1e1e" stroke-width="1.1"/>
<line x1="347.50" y1="352.00" x2="356.00" y2="362.00" stroke="#1e1e1e" stroke-width="1.1" stroke-dasharray="3.5,2.5"/>
<line x1="352.00" y1="346.00" x2="361.00" y2="356.00" stroke="#1e1e1e" stroke-width="1.1" stroke-dasharray="3.5,2.5"/>
<rect x="58.10" y="292.70" width="58.40" height="2.60" fill="#1e1e1e"/>
<rect x="58.10" y="292.70" width="58.40" height="6.40" rx="1" fill="none" stroke="#1e1e1e" stroke-width="1.0"/>
<path d="M66.3,299.09999999999997 L67.6,311.09999999999997 L107.0,311.09999999999997 L108.3,299.09999999999997" fill="none" stroke="#1e1e1e" stroke-width="1.0"/>
<line x1="66.90" y1="306.10" x2="107.70" y2="306.10" stroke="#1e1e1e" stroke-width="0.8"/>
<rect x="67.40" y="307.50" width="39.80" height="3.60" fill="#1e1e1e"/>
<rect x="58.10" y="311.10" width="58.40" height="8.00" rx="1.2" fill="none" stroke="#1e1e1e" stroke-width="1.0"/>
<line x1="58.10" y1="315.10" x2="116.50" y2="315.10" stroke="#1e1e1e" stroke-width="0.8"/>
<line x1="60.30" y1="317.70" x2="114.30" y2="317.70" stroke="#1e1e1e" stroke-width="0.7"/>
<rect x="65.00" y="319.50" width="44.30" height="6.20" rx="0.6" fill="none" stroke="#1e1e1e" stroke-width="1.0"/>
<line x1="73.10" y1="319.70" x2="73.10" y2="325.70" stroke="#1e1e1e" stroke-width="0.8"/>
<line x1="74.30" y1="319.70" x2="74.30" y2="325.70" stroke="#1e1e1e" stroke-width="0.6"/>
<line x1="89.70" y1="319.70" x2="89.70" y2="325.70" stroke="#1e1e1e" stroke-width="0.8"/>
<line x1="90.90" y1="319.70" x2="90.90" y2="325.70" stroke="#1e1e1e" stroke-width="0.6"/>
<line x1="105.10" y1="319.70" x2="105.10" y2="325.70" stroke="#1e1e1e" stroke-width="0.8"/>
<line x1="106.30" y1="319.70" x2="106.30" y2="325.70" stroke="#1e1e1e" stroke-width="0.6"/>
<rect x="67.50" y="325.70" width="39.40" height="10.20" fill="#1e1e1e"/>
<rect x="65.10" y="336.10" width="44.10" height="12.60" rx="2.2" fill="none" stroke="#1e1e1e" stroke-width="1.0"/>
<line x1="72.60" y1="336.30" x2="72.60" y2="348.50" stroke="#1e1e1e" stroke-width="0.9"/>
<line x1="80.60" y1="336.30" x2="80.60" y2="348.50" stroke="#1e1e1e" stroke-width="0.9"/>
<line x1="93.80" y1="336.30" x2="93.80" y2="348.50" stroke="#1e1e1e" stroke-width="0.9"/>
<line x1="101.80" y1="336.30" x2="101.80" y2="348.50" stroke="#1e1e1e" stroke-width="0.9"/>
<path d="M80.6,337.2 Q87.3,335.5 93.8,337.2 M80.6,347.7 Q87.3,349.5 93.8,347.7" fill="none" stroke="#1e1e1e" stroke-width="0.8"/>
<rect x="69.80" y="348.70" width="32.30" height="2.40" rx="0" fill="none" stroke="#1e1e1e" stroke-width="0.8"/>
<path d="M63.3,351.09999999999997 L61.3,375.9 M111.9,351.09999999999997 L112.9,375.9 M63.3,351.09999999999997 L111.9,351.09999999999997" fill="none" stroke="#1e1e1e" stroke-width="1.0"/>
<path d="M128.3,358.0 L126.8,375.9 M188.7,358.0 L189.89999999999998,375.9" fill="none" stroke="#1e1e1e" stroke-width="1.0"/>
<line x1="128.30" y1="358.00" x2="188.70" y2="358.00" stroke="#1e1e1e" stroke-width="1.6"/>
<path d="M87.0,377.6 Q89.8,375.6 94.8,375.5 L145.8,375.5 Q150.3,375.6 154.3,377.6" fill="none" stroke="#1e1e1e" stroke-width="0.9"/>
<path d="M61.099999999999994,377.6 L190.89999999999998,377.6 Q192.3,377.6 192.3,379.2 Q192.3,380.9 190.89999999999998,380.9 L61.099999999999994,380.9 Q59.699999999999996,380.9 59.699999999999996,379.2 Q59.699999999999996,377.6 61.099999999999994,377.6 Z" fill="none" stroke="#1e1e1e" stroke-width="1.0"/>
<line x1="60.80" y1="379.30" x2="191.40" y2="379.30" stroke="#1e1e1e" stroke-width="0.6"/>
<line x1="67.30" y1="381.40" x2="187.90" y2="381.40" stroke="#555" stroke-width="0.8" stroke-dasharray="5.0,6.0"/>
<path d="M60.699999999999996,380.9 C60.699999999999996,388.7 65.3,394.9 74.3,394.9 L175.8,394.9 C184.3,394.9 189.7,388.7 190.1,380.9" fill="none" stroke="#1e1e1e" stroke-width="1.0"/>
<line x1="85.70" y1="380.90" x2="86.00" y2="394.90" stroke="#1e1e1e" stroke-width="0.9"/>
<line x1="156.30" y1="380.90" x2="156.30" y2="394.90" stroke="#1e1e1e" stroke-width="0.9"/>
<path d="M133.4,358 L133.4,315.2 Q133.4,312 136.6,312 L180.8,312 Q184,312 184,315.2 L184,358" fill="#fff" stroke="#1e1e1e" stroke-width="1.1"/>
<line x1="181.20" y1="315.00" x2="181.20" y2="357.00" stroke="#1e1e1e" stroke-width="0.7"/>
<line x1="128.70" y1="357.90" x2="188.70" y2="357.90" stroke="#1e1e1e" stroke-width="1.6"/>
<path d="M142.81,321.74 A21.4,21.4 0 1 1 142.81,349.26" fill="none" stroke="#1e1e1e" stroke-width="1.1"/>
<path d="M159.2,318.3 A17.2,17.2 0 0 1 159.2,352.7" fill="none" stroke="#1e1e1e" stroke-width="1.6"/>
<path d="M159.2,318.3 L134.5,321.0 M159.2,352.7 L141.0,355.5" fill="none" stroke="#1e1e1e" stroke-width="1.0"/>
<line x1="157.00" y1="321.50" x2="161.50" y2="349.00" stroke="#1e1e1e" stroke-width="1.0" stroke-dasharray="4,2.5"/>
<path d="M18.60,348.00 L98.73,331.55 L105.30,363.58 L25.18,380.03 Z" fill="#fff" stroke="#1e1e1e" stroke-width="1.1"/>
<path d="M56.3,330.3 L87.9,325.0 L87.9,335.7 C83,341 79,345.1 73.5,345.1 C66,345.1 61,341 58.6,338.9 Z" fill="#fff" stroke="#1e1e1e" stroke-width="1.1"/>
<path d="M57.90,313.20 L81.60,311.60 L83.00,325.40 L60.00,328.90 Z" fill="#fff" stroke="#1e1e1e" stroke-width="1.1"/>
<circle cx="70.2" cy="317.3" r="1.9" fill="#555" stroke="#1e1e1e" stroke-width="0.9"/>
<path d="M98.25,330.22 L117.06,326.36 L124.08,360.55 L105.27,364.41 Z" fill="#fff" stroke="#1e1e1e" stroke-width="1.1"/>
<line x1="98.25" y1="330.22" x2="105.27" y2="364.41" stroke="#1e1e1e" stroke-width="2.0"/>
<path d="M118.80,321.20 L132.30,318.50 L141.70,359.80 L127.70,363.30 Z" fill="#fff" stroke="#1e1e1e" stroke-width="1.1"/>
<path d="M120.00,326.80 L133.50,324.00" fill="none" stroke="#1e1e1e" stroke-width="0.8"/>
<path d="M120.60,329.20 L134.10,326.40" fill="none" stroke="#1e1e1e" stroke-width="0.8"/>
<path d="M121.20,331.60 L134.60,328.80" fill="none" stroke="#1e1e1e" stroke-width="0.8"/>
<path d="M83.31,401.46 L57.60,432.10 L82.88,453.31" fill="none" stroke="#1e1e1e" stroke-width="1.25" stroke-dasharray="6,3.4"/>
<path d="M82.88,453.31 L158.73,362.92" fill="none" stroke="#1e1e1e" stroke-width="1.25" stroke-dasharray="6,3.4"/>
<path d="M77.50,371.50 L83.00,365.00 L90.00,371.00" fill="none" stroke="#1e1e1e" stroke-width="1.2" stroke-dasharray="7,2.5"/>
<path d="M95.50,370.50 L103.00,376.50 L107.00,371.50 L113.00,361.00" fill="none" stroke="#1e1e1e" stroke-width="1.2" stroke-dasharray="8,2.5,6,2.5"/>
<line x1="108.00" y1="366.00" x2="108.60" y2="372.00" stroke="#1e1e1e" stroke-width="1.8"/>
<path d="M68.00,383.00 L74.00,377.00" fill="none" stroke="#1e1e1e" stroke-width="1.2"/>
<path d="M71.50,385.50 L78.00,392.00 L81.50,388.00" fill="none" stroke="#1e1e1e" stroke-width="1.2"/>
<path d="M78.00,392.00 L76.50,395.50 L83.50,400.50 L92.50,399.00" fill="none" stroke="#1e1e1e" stroke-width="1.2"/>
<line x1="102.50" y1="388.50" x2="98.00" y2="396.00" stroke="#1e1e1e" stroke-width="1.2"/>
<line x1="76.50" y1="376.50" x2="80.00" y2="378.00" stroke="#1e1e1e" stroke-width="1.0"/>
<line x1="115.00" y1="375.00" x2="125.00" y2="382.00" stroke="#1e1e1e" stroke-width="1.6"/>
<line x1="104.00" y1="372.00" x2="113.00" y2="377.00" stroke="#1e1e1e" stroke-width="1.15" stroke-dasharray="4.5,2.8"/>
<path d="M118.00,344.90 L122.50,352.00 L127.00,347.00" fill="none" stroke="#1e1e1e" stroke-width="1.15" stroke-dasharray="4,2.6"/>
<path d="M121.70,330.00 L130.00,340.00 L138.40,335.00" fill="none" stroke="#1e1e1e" stroke-width="1.15" stroke-dasharray="4,2.6"/>
<path d="M141.00,360.50 L149.50,369.00 L159.00,361.00 L151.00,353.00" fill="none" stroke="#1e1e1e" stroke-width="1.15" stroke-dasharray="4.5,2.4"/>
<line x1="145.50" y1="366.00" x2="154.50" y2="358.00" stroke="#1e1e1e" stroke-width="1.1" stroke-dasharray="4,2"/>
<line x1="148.00" y1="369.00" x2="157.00" y2="361.00" stroke="#1e1e1e" stroke-width="1.1" stroke-dasharray="4,2"/>
<line x1="136.50" y1="352.00" x2="143.00" y2="359.00" stroke="#1e1e1e" stroke-width="1.1" stroke-dasharray="3.5,2.2"/>
<path d="M126.40,339.30 L132.90,337.90 L137.10,343.60 L139.30,355.00" fill="none" stroke="#1e1e1e" stroke-width="1.1" stroke-dasharray="4.5,2.5"/>
<path d="M117.90,346.40 L123.60,342.10 L127.10,344.30" fill="none" stroke="#1e1e1e" stroke-width="1.1" stroke-dasharray="4,2.2"/>
<path d="M117.10,353.60 L122.90,349.30 L127.90,355.00 L128.60,362.10" fill="none" stroke="#1e1e1e" stroke-width="1.1" stroke-dasharray="4,2.2"/>
<rect x="177.35" y="481.70" width="87.60" height="3.90" fill="#1e1e1e"/>
<rect x="177.35" y="481.70" width="87.60" height="9.60" rx="1" fill="none" stroke="#1e1e1e" stroke-width="1.0"/>
<path d="M189.65,491.3 L191.60000000000002,509.3 L250.7,509.3 L252.65,491.3" fill="none" stroke="#1e1e1e" stroke-width="1.0"/>
<line x1="190.55" y1="501.80" x2="251.75" y2="501.80" stroke="#1e1e1e" stroke-width="0.8"/>
<rect x="191.30" y="503.90" width="59.70" height="5.40" fill="#1e1e1e"/>
<rect x="177.35" y="509.30" width="87.60" height="12.00" rx="1.2" fill="none" stroke="#1e1e1e" stroke-width="1.0"/>
<line x1="177.35" y1="515.30" x2="264.95" y2="515.30" stroke="#1e1e1e" stroke-width="0.8"/>
<line x1="180.65" y1="519.20" x2="261.65" y2="519.20" stroke="#1e1e1e" stroke-width="0.7"/>
<rect x="187.70" y="521.90" width="66.45" height="9.30" rx="0.6" fill="none" stroke="#1e1e1e" stroke-width="1.0"/>
<line x1="199.85" y1="522.20" x2="199.85" y2="531.20" stroke="#1e1e1e" stroke-width="0.8"/>
<line x1="201.65" y1="522.20" x2="201.65" y2="531.20" stroke="#1e1e1e" stroke-width="0.6"/>
<line x1="224.75" y1="522.20" x2="224.75" y2="531.20" stroke="#1e1e1e" stroke-width="0.8"/>
<line x1="226.55" y1="522.20" x2="226.55" y2="531.20" stroke="#1e1e1e" stroke-width="0.6"/>
<line x1="247.85" y1="522.20" x2="247.85" y2="531.20" stroke="#1e1e1e" stroke-width="0.8"/>
<line x1="249.65" y1="522.20" x2="249.65" y2="531.20" stroke="#1e1e1e" stroke-width="0.6"/>
<rect x="191.45" y="531.20" width="59.10" height="15.30" fill="#1e1e1e"/>
<rect x="187.85" y="546.80" width="66.15" height="18.90" rx="2.2" fill="none" stroke="#1e1e1e" stroke-width="1.0"/>
<line x1="199.10" y1="547.10" x2="199.10" y2="565.40" stroke="#1e1e1e" stroke-width="0.9"/>
<line x1="211.10" y1="547.10" x2="211.10" y2="565.40" stroke="#1e1e1e" stroke-width="0.9"/>
<line x1="230.90" y1="547.10" x2="230.90" y2="565.40" stroke="#1e1e1e" stroke-width="0.9"/>
<line x1="242.90" y1="547.10" x2="242.90" y2="565.40" stroke="#1e1e1e" stroke-width="0.9"/>
<path d="M211.1,548.45 Q221.15,545.9 230.9,548.45 M211.1,564.2 Q221.15,566.9 230.9,564.2" fill="none" stroke="#1e1e1e" stroke-width="0.8"/>
<rect x="194.90" y="565.70" width="48.45" height="3.60" rx="0" fill="none" stroke="#1e1e1e" stroke-width="0.8"/>
<path d="M185.15,569.3 L182.15,606.5 M258.05,569.3 L259.55,606.5 M185.15,569.3 L258.05,569.3" fill="none" stroke="#1e1e1e" stroke-width="1.0"/>
<path d="M283.25,579.65 L281.0,606.5 M373.25,579.65 L375.04999999999995,606.5" fill="none" stroke="#1e1e1e" stroke-width="1.0"/>
<line x1="283.25" y1="579.65" x2="373.25" y2="579.65" stroke="#1e1e1e" stroke-width="1.6"/>
<path d="M220.70000000000002,609.05 Q224.9,606.05 232.4,605.9 L308.9,605.9 Q315.65,606.05 321.65,609.05" fill="none" stroke="#1e1e1e" stroke-width="0.9"/>
<path d="M181.85000000000002,609.05 L376.54999999999995,609.05 Q378.65,609.05 378.65,611.45 Q378.65,614.0 376.54999999999995,614.0 L181.85000000000002,614.0 Q179.75,614.0 179.75,611.45 Q179.75,609.05 181.85000000000002,609.05 Z" fill="none" stroke="#1e1e1e" stroke-width="1.0"/>
<line x1="181.40" y1="611.60" x2="377.30" y2="611.60" stroke="#1e1e1e" stroke-width="0.6"/>
<line x1="191.15" y1="614.75" x2="372.05" y2="614.75" stroke="#555" stroke-width="0.8" stroke-dasharray="7.5,9.0"/>
<path d="M181.25,614.0 C181.25,625.7 188.15,635.0 201.65,635.0 L353.9,635.0 C366.65,635.0 374.75,625.7 375.35,614.0" fill="none" stroke="#1e1e1e" stroke-width="1.0"/>
<line x1="218.75" y1="614.00" x2="219.20" y2="635.00" stroke="#1e1e1e" stroke-width="0.9"/>
<line x1="324.65" y1="614.00" x2="324.65" y2="635.00" stroke="#1e1e1e" stroke-width="0.9"/>
<path d="M290.3,579.65 L290.3,516.05 Q290.3,510.8 295.55,510.8 L360.35,510.8 Q365.6,510.8 365.6,516.2 L365.6,520.7" fill="none" stroke="#1e1e1e" stroke-width="1.0"/>
<line x1="294.65" y1="515.45" x2="294.65" y2="547.70" stroke="#1e1e1e" stroke-width="0.7"/>
<path d="M350.6223917448001,522.3276082552 A32.7,32.7 0 1 0 350.6223917448001,568.5723917448001" fill="none" stroke="#1e1e1e" stroke-width="1.3"/>
<path d="M327.5,520.1 A25.349999999999998,25.349999999999998 0 0 0 327.5,570.8" fill="none" stroke="#1e1e1e" stroke-width="2.1"/>
<path d="M327.5,520.1 L359.0,521.6 Q361.4,546.65 357.5,570.95 L327.5,570.8" fill="none" stroke="#1e1e1e" stroke-width="1.0"/>
<line x1="327.50" y1="524.45" x2="327.50" y2="566.45" stroke="#1e1e1e" stroke-width="1.0" stroke-dasharray="6.0,3.75"/>
<path d="M361.50,514.60 L384.80,517.40 L380.20,582.20 L357.20,580.00 Z" fill="#fff" stroke="#1e1e1e" stroke-width="1.2"/>
<line x1="363.30" y1="519.00" x2="360.60" y2="577.00" stroke="#1e1e1e" stroke-width="1.0" stroke-dasharray="6,3.5"/>
<path d="M359.50,563.00 L382.00,564.60 L381.40,572.40 L358.90,571.00 Z" fill="none" stroke="#1e1e1e" stroke-width="0.9"/>
<line x1="359.20" y1="566.80" x2="381.70" y2="568.40" stroke="#1e1e1e" stroke-width="0.7"/>
<path d="M384.6,522.0 L416.2,526.6 L412.8,580.6 L380.3,577.6" fill="none" stroke="#1e1e1e" stroke-width="1.1"/>
<path d="M416.2,528.2 L431.5,529.6 M478.0,534.0 L539.0,538.8 L533.8,589.4 L412.8,580.6" fill="none" stroke="#1e1e1e" stroke-width="1.1"/>
<path d="M431.0,516.0 L479.3,519.0 L477.6,531.0 C470,533 466,544.6 453.5,544.6 C443,544.6 438.5,533.5 433.8,529.4 Z" fill="#fff" stroke="#1e1e1e" stroke-width="1.1"/>
<path d="M438.80,496.40 L474.60,499.30 L473.80,517.80 L438.20,516.20 Z" fill="#fff" stroke="#1e1e1e" stroke-width="1.1"/>
<circle cx="456.4" cy="503.2" r="2.4" fill="none" stroke="#1e1e1e" stroke-width="1"/>
<line x1="153.60" y1="546.70" x2="327.50" y2="546.70" stroke="#2a2a2a" stroke-width="1.0"/>
<line x1="153.60" y1="606.00" x2="183.00" y2="606.00" stroke="#2a2a2a" stroke-width="1.0"/>
<line x1="161.00" y1="548.00" x2="161.00" y2="605.00" stroke="#2a2a2a" stroke-width="1.0"/>
<polygon points="161.00,547.20 163.60,555.80 158.40,555.80" fill="#1e1e1e"/>
<polygon points="161.00,605.50 158.40,596.90 163.60,596.90" fill="#1e1e1e"/>
<text x="110.7" y="573.6" font-size="14" text-anchor="start" fill="#1a1a1a" stroke="#1a1a1a" stroke-width="0.3" textLength="45.7" lengthAdjust="spacingAndGlyphs">50mm</text>
<text x="127.0" y="595.0" font-size="14" text-anchor="start" fill="#1a1a1a" stroke="#1a1a1a" stroke-width="0.3" textLength="14.4" lengthAdjust="spacingAndGlyphs">2&#8243;</text>
<line x1="364.30" y1="511.40" x2="438.60" y2="511.40" stroke="#2a2a2a" stroke-width="1.0"/>
<line x1="474.40" y1="511.40" x2="553.00" y2="511.40" stroke="#2a2a2a" stroke-width="1.0"/>
<line x1="372.00" y1="634.60" x2="553.00" y2="634.60" stroke="#2a2a2a" stroke-width="1.0"/>
<line x1="545.40" y1="512.00" x2="545.40" y2="561.00" stroke="#2a2a2a" stroke-width="1.0"/>
<line x1="545.40" y1="584.00" x2="545.40" y2="634.00" stroke="#2a2a2a" stroke-width="1.0"/>
<polygon points="545.40,511.90 548.00,520.50 542.80,520.50" fill="#1e1e1e"/>
<polygon points="545.40,634.10 542.80,625.50 548.00,625.50" fill="#1e1e1e"/>
<text x="551.6" y="578.0" font-size="14" text-anchor="start" fill="#1a1a1a" stroke="#1a1a1a" stroke-width="0.3" textLength="45.4" lengthAdjust="spacingAndGlyphs">95mm</text>
<text x="553.0" y="599.0" font-size="14" text-anchor="start" fill="#1a1a1a" stroke="#1a1a1a" stroke-width="0.3" textLength="43" lengthAdjust="spacingAndGlyphs">3 1/4&#8243;</text>
</g>
</svg>
</body></html>
